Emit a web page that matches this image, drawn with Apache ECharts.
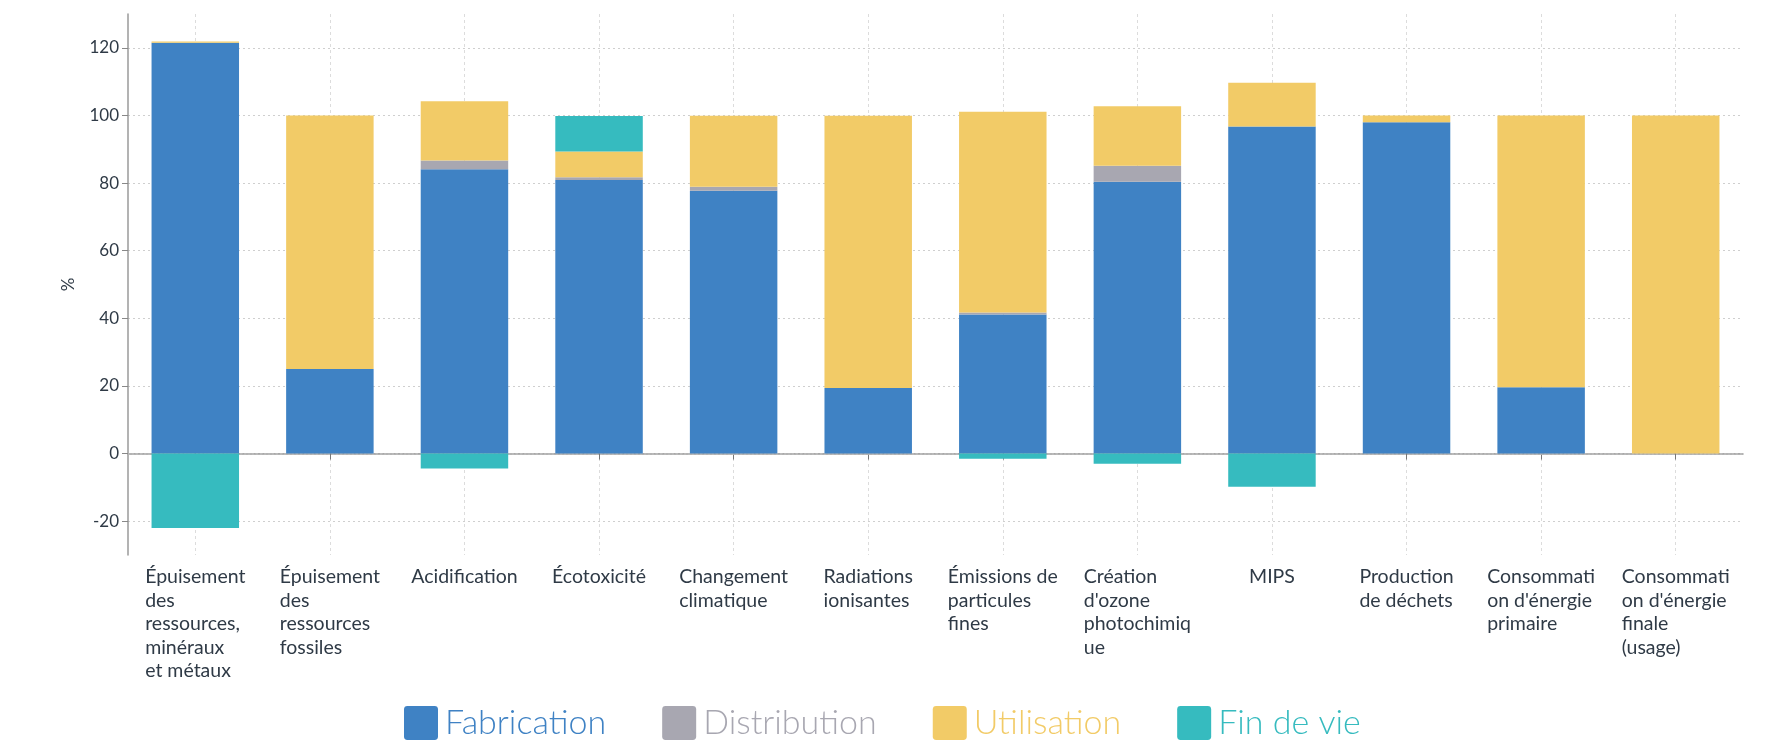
<!DOCTYPE html>
<html>
<head>
<meta charset="utf-8">
<script src="https://cdn.jsdelivr.net/npm/echarts@6/dist/echarts.min.js"></script>
<style>html,body{margin:0;padding:0;background:#fff;}#c{width:1791px;height:747px;}</style>
</head>
<body>
<div id="c"></div>
<script>
const categories = [
  "Épuisement\ndes\nressources,\nminéraux\net métaux",
  "Épuisement\ndes\nressources\nfossiles",
  "Acidification",
  "Écotoxicité",
  "Changement\nclimatique",
  "Radiations\nionisantes",
  "Émissions de\nparticules\nfines",
  "Création\nd'ozone\nphotochimiq\nue",
  "MIPS",
  "Production\nde déchets",
  "Consommati\non d'énergie\nprimaire",
  "Consommati\non d'énergie\nfinale\n(usage)"
];
const seriesNames = ["Fabrication", "Distribution", "Utilisation", "Fin de vie"];
const fabrication  = [121.5, 25.0, 84.1, 80.9, 77.7, 19.4, 41.1, 80.4, 96.7, 98.0, 19.6, 0];
const distribution = [0, 0, 2.6, 0.8, 1.2, 0, 0.6, 4.7, 0, 0, 0, 0];
const utilisation  = [0.4, 75.0, 17.5, 7.6, 21.0, 80.5, 59.4, 17.6, 13.0, 2.0, 80.4, 100];
const finDeVie     = [-22.0, 0, -4.4, 10.5, 0, 0, -1.5, -3.0, -9.8, 0, 0, 0];
const yTickLabels  = [-20, 0, 20, 40, 60, 80, 100, 120];
const colors = ["#3f82c4", "#a8a7b1", "#f2cb67", "#36bbbf"];

const values = [fabrication, distribution, utilisation, finDeVie];
const FONT = "Lato, 'Noto Sans', sans-serif";

const chart = echarts.init(document.getElementById('c'), null, {renderer: 'canvas'});
const series = seriesNames.map((name, i) => {
  const s = {
    name: name,
    type: 'bar',
    stack: 'total',
    barWidth: '65%',
    data: values[i],
    itemStyle: {color: colors[i]},
    emphasis: {disabled: true}
  };
  if (i === 0) {
    s.markLine = {
      silent: true, symbol: 'none', label: {show: false},
      lineStyle: {color: '#bdbdbd', type: [2, 2], width: 1.5},
      data: [{yAxis: 0}],
      z: 1
    };
  }
  return s;
});

chart.setOption({
  animation: false,
  backgroundColor: '#ffffff',
  color: colors,
  textStyle: {fontFamily: FONT},
  grid: {left: 128, right: 48, top: 14, bottom: 192, containLabel: false},
  legend: {
    top: 706,
    left: 404,
    padding: 0,
    itemWidth: 34,
    itemHeight: 34,
    itemGap: 56,
    icon: 'path://M1,0 H9 Q10,0 10,1 V9 Q10,10 9,10 H1 Q0,10 0,9 V1 Q0,0 1,0 Z',
    selectedMode: false,
    textStyle: {fontSize: 34, fontWeight: 300, fontFamily: FONT, padding: [0, 0, 0, 2]},
    data: seriesNames.map((n, i) => ({name: n, textStyle: {color: colors[i]}}))
  },
  xAxis: {
    type: 'category',
    data: categories,
    axisLine: {show: true, lineStyle: {color: '#9a9a9a', width: 1.5}},
    axisTick: {show: true, alignWithLabel: true, length: 6, lineStyle: {color: '#777'}},
    splitLine: {show: true, alignWithLabel: true, lineStyle: {color: '#dcdcdc', type: [3, 3], width: 1}},
    axisLabel: {
      interval: 0,
      margin: 10,
      color: '#2f3a46',
      fontSize: 19.5,
      lineHeight: 23.5,
      fontFamily: FONT,
      formatter: function (v) {
        return v.split('\n').map(l => '{a|' + l + '}').join('\n');
      },
      rich: {a: {align: 'left', fontSize: 19.5, lineHeight: 23.5, color: '#2f3a46', fontFamily: FONT}}
    }
  },
  yAxis: {
    type: 'value',
    min: -30,
    max: 130,
    splitNumber: 8,
    name: '%',
    nameLocation: 'middle',
    nameGap: 51,
    nameRotate: 90,
    nameTextStyle: {color: '#2f3a46', fontSize: 17, fontFamily: FONT},
    axisLine: {show: true, lineStyle: {color: '#9a9a9a', width: 1.5}},
    axisTick: {show: true, length: 6, lineStyle: {color: '#888'}},
    splitLine: {show: true, showMinLine: false, showMaxLine: false, lineStyle: {color: '#cfcfcf', type: [2, 3], width: 1.2}},
    axisLabel: {
      color: '#2f3a46',
      fontSize: 17,
      margin: 9,
      fontFamily: FONT,
      showMinLabel: false,
      showMaxLabel: false,
      formatter: function (v) { return yTickLabels.indexOf(v) >= 0 ? String(v) : ''; }
    }
  },
  series: series
});
</script>
</body>
</html>
